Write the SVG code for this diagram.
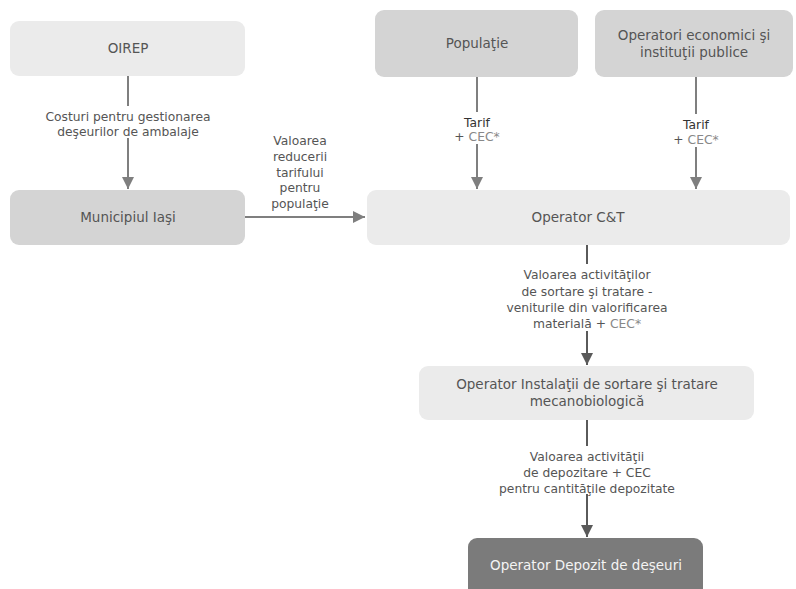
<svg xmlns="http://www.w3.org/2000/svg" width="796" height="589" viewBox="0 0 796 589">
<defs>
<marker id="ah" viewBox="0 0 10 10" refX="10" refY="5" markerWidth="6" markerHeight="6" orient="auto" markerUnits="strokeWidth"><path d="M0,0 L10,5 L0,10 z" fill="#7f7f7f"/></marker>
<marker id="ahd" viewBox="0 0 10 10" refX="10" refY="5" markerWidth="6" markerHeight="6" orient="auto" markerUnits="strokeWidth"><path d="M0,0 L10,5 L0,10 z" fill="#5a5a5a"/></marker>
<style>
.light{fill:#ebebeb}
.mid{fill:#d4d4d4}
.dark{fill:#7b7b7b}
.nt{font-family:"DejaVu Sans",Verdana,sans-serif;font-size:13.5px;fill:#555;text-anchor:middle}
.wt{fill:#f4f4f4}
.lt{font-family:"DejaVu Sans",Verdana,sans-serif;font-size:12.3px;fill:#555;text-anchor:middle}
.dk{fill:#333}
.gr{fill:#888}
.c{fill:none;stroke:#7f7f7f;stroke-width:2}
.cd{fill:none;stroke:#5a5a5a;stroke-width:2}
</style>
</defs>
<rect width="796" height="589" fill="#ffffff"/>
<g id="oirep"><rect class="light" x="10" y="21" width="235" height="55" rx="9"/><text class="nt" x="128" y="53">OIREP</text></g>
<g id="municipiul"><rect class="mid" x="10" y="190" width="235" height="55" rx="9"/><text class="nt" x="128" y="222">Municipiul Iaşi</text></g>
<g id="populatie"><rect class="mid" x="375" y="10" width="203" height="67" rx="9"/><text class="nt" x="477" y="48">Populaţie</text></g>
<g id="operatori"><rect class="mid" x="595" y="10" width="198" height="67" rx="9"/><text class="nt" x="694" y="40">Operatori economici şi</text><text class="nt" x="694" y="57">instituţii publice</text></g>
<g id="operator-ct"><rect class="light" x="367" y="190" width="423" height="55" rx="9"/><text class="nt" x="578" y="222">Operator C&amp;T</text></g>
<g id="instalatii"><rect class="light" x="419" y="366" width="335" height="54" rx="9"/><text class="nt" x="587" y="389">Operator Instalaţii de sortare şi tratare</text><text class="nt" x="587" y="406">mecanobiologică</text></g>
<g id="depozit"><rect class="dark" x="468" y="538" width="235" height="60" rx="9"/><text class="nt wt" x="586" y="570">Operator Depozit de deşeuri</text></g>
<g id="connectors">
<path class="c" d="M128,76 V106 M128,138 V189" marker-end="url(#ah)"/>
<path class="c" d="M128,76 V106"/>
<path class="c" d="M245,217 H365" marker-end="url(#ah)"/>
<path class="c" d="M477,77 V112 M477,144 V189" marker-end="url(#ah)"/>
<path class="c" d="M477,77 V112"/>
<path class="c" d="M696,77 V114 M696,147 V189" marker-end="url(#ah)"/>
<path class="c" d="M696,77 V114"/>
<path class="cd" d="M587,245 V264 M587,331 V365" marker-end="url(#ahd)"/>
<path class="cd" d="M587,245 V264"/>
<path class="cd" d="M587,420 V446 M587,494 V537" marker-end="url(#ahd)"/>
<path class="cd" d="M587,420 V446"/>
<text class="lt" x="128" y="121">Costuri pentru gestionarea</text>
<text class="lt" x="128" y="136">deşeurilor de ambalaje</text>
<text class="lt" x="300" y="145">Valoarea</text>
<text class="lt" x="300" y="161">reducerii</text>
<text class="lt" x="300" y="177">tarifului</text>
<text class="lt" x="300" y="192">pentru</text>
<text class="lt" x="300" y="208">populaţie</text>
<text class="lt dk" x="477" y="127">Tarif</text>
<text class="lt" x="477" y="141">+ <tspan class="gr">CEC*</tspan></text>
<text class="lt dk" x="696" y="129">Tarif</text>
<text class="lt" x="696" y="144">+ <tspan class="gr">CEC*</tspan></text>
<text class="lt" x="587" y="279">Valoarea activităţilor</text>
<text class="lt" x="587" y="296">de sortare şi tratare -</text>
<text class="lt" x="587" y="312">veniturile din valorificarea</text>
<text class="lt" x="587" y="328">materială + <tspan class="gr">CEC*</tspan></text>
<text class="lt" x="587" y="461">Valoarea activităţii</text>
<text class="lt" x="587" y="477">de depozitare + CEC</text>
<text class="lt" x="587" y="493">pentru cantităţile depozitate</text>
</g>
</svg>
